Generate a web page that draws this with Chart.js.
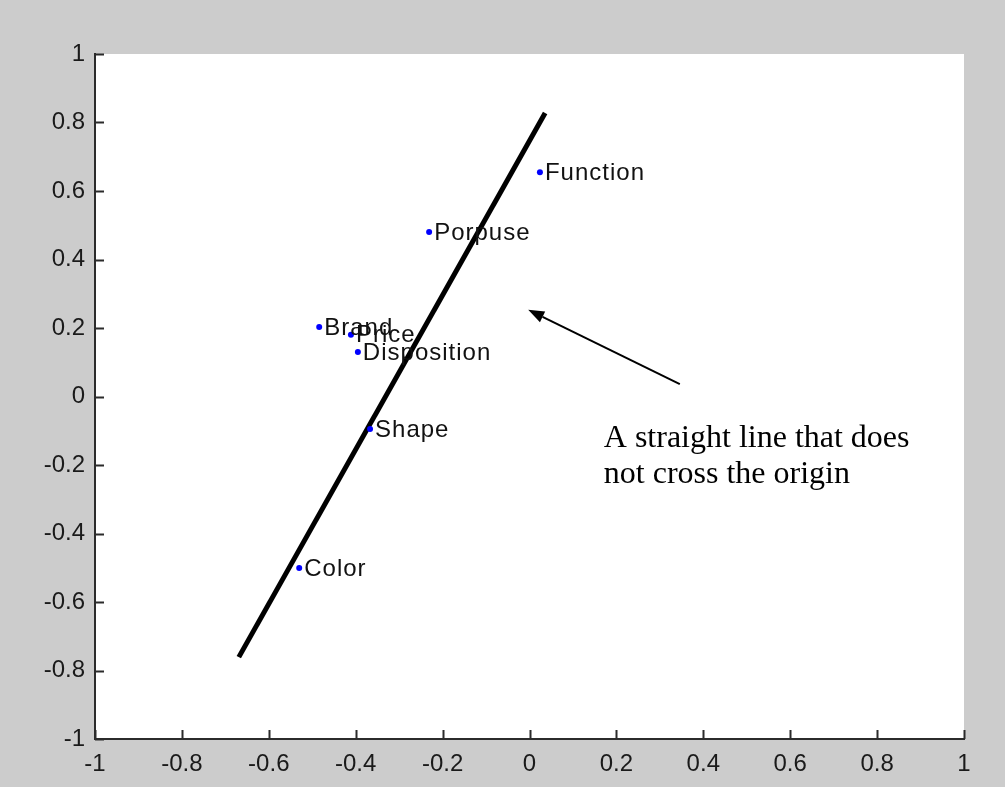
<!DOCTYPE html>
<html>
<head>
<meta charset="utf-8">
<script src="https://cdn.jsdelivr.net/npm/chart.js@4.4.1/dist/chart.umd.min.js"></script>
<style>
    html, body { margin: 0; padding: 0; background: #cccccc; }
    #wrap { width: 1005px; height: 787px; position: relative; }
</style>
</head>
<body>
<div id="wrap"><canvas id="chart" width="1005" height="787"></canvas></div>
<script>
// attribute labels and their coordinates
const labels = ['Function', 'Porpuse', 'Brand', 'Price', 'Disposition', 'Shape', 'Color'];
const xValues = [0.024, -0.231, -0.484, -0.411, -0.395, -0.367, -0.530];
const yValues = [0.655, 0.480, 0.203, 0.180, 0.130, -0.095, -0.501];

// the fitted straight line (two end points)
const lineX = [-0.669, 0.036];
const lineY = [-0.761, 0.828];

// arrow from the note to the line
const arrowFrom = [0.346, 0.036];
const arrowTo = [-0.003, 0.253];

const noteLines = ['A straight line that does', 'not cross the origin'];
const noteX = 0.171;
const noteY = [-0.148, -0.253];

const tickValues = [-1, -0.8, -0.6, -0.4, -0.2, 0, 0.2, 0.4, 0.6, 0.8, 1];

const points = xValues.map((x, i) => ({ x: x, y: yValues[i] }));
const linePoints = lineX.map((x, i) => ({ x: x, y: lineY[i] }));

const axisColor = '#2b2b2b';
const sansFont = '"Liberation Sans", Arial, sans-serif';

// white plot area on the grey figure
const plotBackground = {
    id: 'plotBackground',
    beforeDraw(chart) {
        const { ctx, chartArea: a } = chart;
        ctx.save();
        ctx.fillStyle = '#ffffff';
        ctx.fillRect(a.left, a.top, a.right - a.left, a.bottom - a.top);
        ctx.restore();
    }
};

// inward ticks, matlab style
const inwardTicks = {
    id: 'inwardTicks',
    afterDraw(chart) {
        const { ctx, chartArea: a, scales } = chart;
        ctx.save();
        ctx.strokeStyle = axisColor;
        ctx.lineWidth = 2;
        ctx.beginPath();
        tickValues.forEach(v => {
            const px = Math.round(scales.x.getPixelForValue(v)) + 0.5;
            ctx.moveTo(px, a.bottom);
            ctx.lineTo(px, a.bottom - 9);
            const py = Math.round(scales.y.getPixelForValue(v)) + 0.5;
            ctx.moveTo(a.left, py);
            ctx.lineTo(a.left + 9, py);
        });
        ctx.stroke();
        ctx.restore();
    }
};

// text labels next to points, the arrow and the note
const annotations = {
    id: 'annotations',
    afterDatasetsDraw(chart) {
        const { ctx, scales } = chart;
        const sx = v => scales.x.getPixelForValue(v);
        const sy = v => scales.y.getPixelForValue(v);
        ctx.save();

        ctx.fillStyle = '#111111';
        ctx.font = '24px ' + sansFont;
        ctx.letterSpacing = '1px';
        ctx.textBaseline = 'middle';
        ctx.textAlign = 'left';
        labels.forEach((t, i) => {
            ctx.fillText(t, sx(xValues[i]) + 5, sy(yValues[i]) + 1);
        });
        ctx.letterSpacing = '0px';

        const x0 = sx(arrowFrom[0]), y0 = sy(arrowFrom[1]);
        const x1 = sx(arrowTo[0]), y1 = sy(arrowTo[1]);
        const ang = Math.atan2(y1 - y0, x1 - x0);
        const headLen = 16, headW = 6;
        ctx.strokeStyle = '#000000';
        ctx.lineWidth = 2;
        ctx.beginPath();
        ctx.moveTo(x0, y0);
        ctx.lineTo(x1 - headLen * Math.cos(ang), y1 - headLen * Math.sin(ang));
        ctx.stroke();
        ctx.fillStyle = '#000000';
        ctx.beginPath();
        ctx.moveTo(x1, y1);
        ctx.lineTo(x1 - headLen * Math.cos(ang) + headW * Math.sin(ang),
                   y1 - headLen * Math.sin(ang) - headW * Math.cos(ang));
        ctx.lineTo(x1 - headLen * Math.cos(ang) - headW * Math.sin(ang),
                   y1 - headLen * Math.sin(ang) + headW * Math.cos(ang));
        ctx.closePath();
        ctx.fill();

        ctx.font = '32px "Liberation Serif", "Times New Roman", serif';
        ctx.textBaseline = 'alphabetic';
        noteLines.forEach((t, i) => {
            ctx.fillText(t, sx(noteX), sy(noteY[i]));
        });
        ctx.restore();
    }
};

const tickFormat = v => String(Number(v.toFixed(1)));

const chart = new Chart(document.getElementById('chart'), {
    type: 'scatter',
    data: {
        datasets: [
            {
                label: 'line',
                data: linePoints,
                showLine: true,
                borderColor: '#000000',
                borderWidth: 5,
                pointRadius: 0,
                borderCapStyle: 'butt',
                order: 2
            },
            {
                label: 'attributes',
                data: points,
                backgroundColor: '#0000ff',
                borderColor: '#0000ff',
                pointRadius: 3,
                borderWidth: 0,
                order: 1
            }
        ]
    },
    options: {
        responsive: false,
        animation: false,
        devicePixelRatio: 1,
        layout: { padding: { top: 54, right: 41, left: 0, bottom: 0 } },
        plugins: {
            legend: { display: false },
            tooltip: { enabled: false }
        },
        scales: {
            x: {
                type: 'linear',
                min: -1,
                max: 1,
                afterBuildTicks: s => { s.ticks = tickValues.map(v => ({ value: v })); },
                afterFit: s => { s.height = 48; },
                grid: { display: false, drawTicks: false },
                border: { display: true, color: axisColor, width: 2 },
                ticks: {
                    padding: 11,
                    color: '#1a1a1a',
                    font: { family: sansFont, size: 24 },
                    maxRotation: 0,
                    autoSkip: false,
                    callback: tickFormat
                }
            },
            y: {
                type: 'linear',
                min: -1,
                max: 1,
                afterBuildTicks: s => { s.ticks = tickValues.map(v => ({ value: v })); },
                afterFit: s => { s.width = 95; },
                grid: { display: false, drawTicks: false },
                border: { display: true, color: axisColor, width: 2 },
                ticks: {
                    padding: 10,
                    color: '#1a1a1a',
                    font: { family: sansFont, size: 24 },
                    autoSkip: false,
                    callback: tickFormat
                }
            }
        }
    },
    plugins: [plotBackground, inwardTicks, annotations]
});
</script>
</body>
</html>
